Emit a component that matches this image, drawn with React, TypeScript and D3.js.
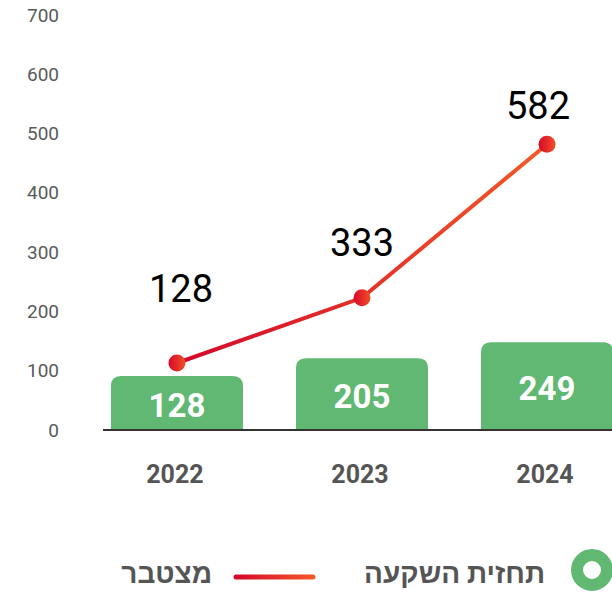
import * as d3 from "d3";

// categories
const years = ["2022", "2023", "2024"];
// bar series: label shown in bar, height
const barLabels = [128, 205, 249];
const barValues = [91, 121, 148];
// line series: label shown above point, position
const lineLabels = [128, 333, 582];
const lineValues = [113, 223, 482];
// y-axis ticks
const yTicks = [0, 100, 200, 300, 400, 500, 600, 700];
// legend
const legendBar = "תחזית השקעה";
const legendLine = "מצטבר";

const W = 612;
const H = 592;
const GREEN = "#61b872";
const GREY = "#555555";
const FONT = "Roboto, 'Liberation Sans', 'DejaVu Sans', sans-serif";

// label nudges relative to the point (px)
const labelGap = [61, 42, 25];
const labelDx = [4, 0, -9];

function topRounded(x: number, y: number, w: number, h: number, r: number) {
  return `M${x},${y + h}V${y + r}Q${x},${y} ${x + r},${y}H${x + w - r}Q${x + w},${y} ${x + w},${y + r}V${y + h}Z`;
}

export default function App() {
  const y = d3.scaleLinear().domain([0, 700]).range([430, 15]);
  const x = d3
    .scaleBand<string>()
    .domain(years)
    .range([84.5, 639.5])
    .paddingInner(0.2865)
    .paddingOuter(0.143);
  const bw = x.bandwidth();
  const cx = (d: string) => (x(d) as number) + bw / 2;

  const line = d3
    .line<number>()
    .x((_, i) => cx(years[i]))
    .y((d) => y(d));

  return (
    <svg
      width={W}
      height={H}
      style={{ position: "absolute", left: 0, top: 0, background: "#fff" }}
      fontFamily={FONT}
    >
      <defs>
        <linearGradient id="lineGrad" gradientUnits="userSpaceOnUse" x1={170} x2={550} y1={0} y2={0}>
          <stop offset="0%" stopColor="#d4052b" />
          <stop offset="100%" stopColor="#f45b26" />
        </linearGradient>
        <linearGradient id="dotGrad" x1="0" x2="1" y1="0" y2="0">
          <stop offset="0%" stopColor="#d8082a" />
          <stop offset="100%" stopColor="#f04f27" />
        </linearGradient>
        <linearGradient id="legGrad" gradientUnits="userSpaceOnUse" x1={234} x2={315} y1={0} y2={0}>
          <stop offset="0%" stopColor="#d4052b" />
          <stop offset="100%" stopColor="#f45b26" />
        </linearGradient>
      </defs>

      {/* y axis labels */}
      {yTicks.map((t) => (
        <text
          key={t}
          x={59}
          y={y(t)}
          textAnchor="end"
          dominantBaseline="central"
          fontSize={19}
          fill="#5a5a5a"
        >
          {t}
        </text>
      ))}

      {/* bars */}
      {years.map((yr, i) => (
        <path
          key={yr}
          d={topRounded(x(yr) as number, y(barValues[i]), bw, y(0) - y(barValues[i]), 10)}
          fill={GREEN}
        />
      ))}
      {years.map((yr, i) => (
        <text
          key={"bl" + yr}
          x={cx(yr)}
          y={(y(barValues[i]) + y(0)) / 2 + 2}
          textAnchor="middle"
          dominantBaseline="central"
          fontSize={33}
          fontWeight="bold"
          fill="#fff"
        >
          {barLabels[i]}
        </text>
      ))}

      {/* baseline */}
      <line x1={103} x2={W} y1={y(0)} y2={y(0)} stroke="#333" strokeWidth={2} />

      {/* x labels */}
      {years.map((yr) => (
        <text
          key={"x" + yr}
          x={cx(yr) - 2}
          y={474}
          textAnchor="middle"
          dominantBaseline="central"
          fontSize={25}
          fontWeight="bold"
          fill={GREY}
        >
          {yr}
        </text>
      ))}

      {/* line */}
      <path d={line(lineValues) as string} fill="none" stroke="url(#lineGrad)" strokeWidth={4} />
      {lineValues.map((v, i) => (
        <circle key={"p" + i} cx={cx(years[i])} cy={y(v)} r={8.5} fill="url(#dotGrad)" />
      ))}
      {lineValues.map((v, i) => (
        <text
          key={"pl" + i}
          x={cx(years[i]) + labelDx[i]}
          y={y(v) - labelGap[i]}
          textAnchor="middle"
          fontSize={38}
          fill="#000"
        >
          {lineLabels[i]}
        </text>
      ))}

      {/* legend */}
      <circle cx={592} cy={570} r={15} fill="none" stroke={GREEN} strokeWidth={12} />
      <text x={545} y={583} textAnchor="end" fontSize={28} fontWeight="bold" fill={GREY}>
        {legendBar}
      </text>
      <line x1={236} x2={313} y1={577} y2={577} stroke="url(#legGrad)" strokeWidth={5} strokeLinecap="round" />
      <text x={212} y={583} textAnchor="end" fontSize={28} fontWeight="bold" fill={GREY}>
        {legendLine}
      </text>
    </svg>
  );
}
